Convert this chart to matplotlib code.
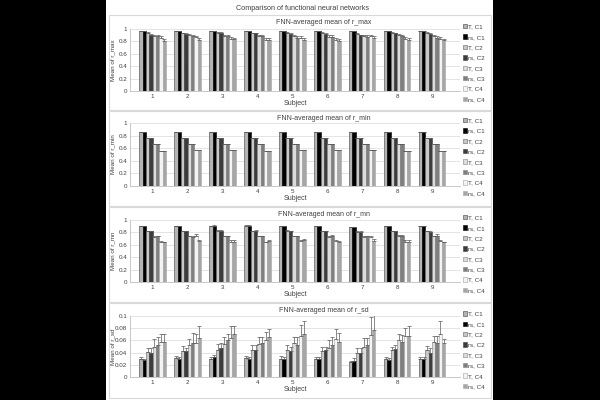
from matplotlib import pyplot as plt
from matplotlib.patches import Rectangle
import numpy as np

plt.rcParams['font.family'] = ['Liberation Sans', 'DejaVu Sans']

subjects = ['1', '2', '3', '4', '5', '6', '7', '8', '9']
series = ['T, C1', 'rs, C1', 'T, C2', 'rs, C2', 'T, C3', 'rs, C3', 'T, C4', 'rs, C4']

# values[subject][series]
r_max = [
    [0.97, 0.96, 0.93, 0.91, 0.88, 0.88, 0.86, 0.81],
    [0.97, 0.97, 0.93, 0.92, 0.90, 0.88, 0.87, 0.82],
    [0.97, 0.97, 0.94, 0.94, 0.89, 0.89, 0.84, 0.84],
    [0.97, 0.97, 0.93, 0.93, 0.88, 0.88, 0.83, 0.83],
    [0.97, 0.97, 0.93, 0.92, 0.89, 0.86, 0.85, 0.83],
    [0.97, 0.97, 0.93, 0.92, 0.87, 0.87, 0.83, 0.81],
    [0.96, 0.96, 0.92, 0.90, 0.88, 0.87, 0.88, 0.85],
    [0.97, 0.97, 0.94, 0.93, 0.90, 0.88, 0.84, 0.83],
    [0.97, 0.97, 0.93, 0.92, 0.88, 0.86, 0.84, 0.82],
]
r_max_err = [
    [0.005, 0.005, 0.015, 0.01, 0.02, 0.03, 0.02, 0.03],
    [0.005, 0.005, 0.01, 0.01, 0.02, 0.03, 0.02, 0.03],
    [0.005, 0.005, 0.01, 0.01, 0.02, 0.02, 0.03, 0.02],
    [0.005, 0.005, 0.01, 0.01, 0.02, 0.03, 0.03, 0.02],
    [0.005, 0.005, 0.015, 0.01, 0.02, 0.02, 0.03, 0.03],
    [0.005, 0.005, 0.015, 0.02, 0.03, 0.03, 0.03, 0.03],
    [0.005, 0.005, 0.015, 0.01, 0.02, 0.03, 0.03, 0.03],
    [0.005, 0.005, 0.01, 0.01, 0.02, 0.02, 0.03, 0.03],
    [0.005, 0.005, 0.015, 0.01, 0.02, 0.02, 0.03, 0.02],
]
r_min = [
    [0.86, 0.86, 0.76, 0.76, 0.66, 0.66, 0.56, 0.55],
    [0.86, 0.86, 0.76, 0.76, 0.66, 0.66, 0.57, 0.57],
    [0.86, 0.86, 0.76, 0.76, 0.66, 0.66, 0.57, 0.57],
    [0.86, 0.86, 0.76, 0.76, 0.66, 0.66, 0.56, 0.56],
    [0.86, 0.86, 0.76, 0.76, 0.66, 0.66, 0.57, 0.57],
    [0.86, 0.86, 0.76, 0.76, 0.66, 0.66, 0.57, 0.57],
    [0.86, 0.86, 0.76, 0.76, 0.66, 0.66, 0.57, 0.57],
    [0.86, 0.86, 0.76, 0.76, 0.66, 0.66, 0.56, 0.56],
    [0.86, 0.86, 0.76, 0.76, 0.66, 0.66, 0.56, 0.56],
]
r_min_err = [[0.003] * 8 for _ in subjects]
r_mn = [
    [0.90, 0.90, 0.82, 0.82, 0.73, 0.74, 0.65, 0.64],
    [0.90, 0.90, 0.82, 0.82, 0.74, 0.73, 0.74, 0.66],
    [0.90, 0.91, 0.83, 0.83, 0.74, 0.74, 0.65, 0.65],
    [0.91, 0.91, 0.82, 0.83, 0.74, 0.74, 0.64, 0.66],
    [0.90, 0.90, 0.83, 0.82, 0.74, 0.74, 0.66, 0.67],
    [0.90, 0.90, 0.82, 0.82, 0.73, 0.74, 0.66, 0.65],
    [0.89, 0.89, 0.81, 0.81, 0.73, 0.74, 0.73, 0.66],
    [0.90, 0.90, 0.82, 0.82, 0.75, 0.75, 0.65, 0.65],
    [0.90, 0.90, 0.82, 0.81, 0.74, 0.75, 0.66, 0.64],
]
r_mn_err = [
    [0.005, 0.005, 0.01, 0.01, 0.01, 0.01, 0.01, 0.01],
    [0.005, 0.005, 0.01, 0.01, 0.01, 0.02, 0.03, 0.02],
    [0.005, 0.005, 0.01, 0.01, 0.01, 0.01, 0.02, 0.02],
    [0.005, 0.005, 0.01, 0.01, 0.01, 0.01, 0.01, 0.02],
    [0.005, 0.005, 0.01, 0.01, 0.01, 0.01, 0.02, 0.02],
    [0.005, 0.005, 0.01, 0.01, 0.01, 0.02, 0.02, 0.01],
    [0.005, 0.005, 0.01, 0.01, 0.01, 0.01, 0.02, 0.04],
    [0.005, 0.005, 0.01, 0.01, 0.01, 0.01, 0.02, 0.02],
    [0.005, 0.005, 0.01, 0.01, 0.01, 0.02, 0.02, 0.01],
]
r_sd = [
    [0.029, 0.028, 0.041, 0.040, 0.050, 0.053, 0.057, 0.058],
    [0.031, 0.030, 0.043, 0.042, 0.053, 0.055, 0.055, 0.064],
    [0.030, 0.032, 0.045, 0.048, 0.054, 0.060, 0.064, 0.071],
    [0.031, 0.029, 0.044, 0.044, 0.054, 0.055, 0.060, 0.065],
    [0.030, 0.029, 0.045, 0.042, 0.055, 0.053, 0.067, 0.071],
    [0.030, 0.029, 0.042, 0.044, 0.048, 0.053, 0.062, 0.058],
    [0.024, 0.027, 0.039, 0.039, 0.050, 0.053, 0.069, 0.077],
    [0.030, 0.028, 0.044, 0.046, 0.060, 0.058, 0.067, 0.067],
    [0.029, 0.029, 0.045, 0.040, 0.057, 0.055, 0.070, 0.056],
]
r_sd_err = [
    [0.003, 0.002, 0.007, 0.007, 0.012, 0.012, 0.014, 0.013],
    [0.003, 0.003, 0.008, 0.006, 0.010, 0.017, 0.016, 0.019],
    [0.003, 0.004, 0.009, 0.007, 0.011, 0.011, 0.020, 0.012],
    [0.004, 0.004, 0.008, 0.008, 0.012, 0.011, 0.013, 0.013],
    [0.004, 0.004, 0.008, 0.007, 0.011, 0.012, 0.018, 0.020],
    [0.003, 0.003, 0.008, 0.006, 0.012, 0.013, 0.016, 0.014],
    [0.003, 0.004, 0.008, 0.008, 0.014, 0.011, 0.029, 0.025],
    [0.003, 0.003, 0.005, 0.007, 0.011, 0.011, 0.014, 0.017],
    [0.003, 0.003, 0.006, 0.007, 0.011, 0.012, 0.021, 0.006],
]

fills = ['#b4b4b4', '#000000', '#c8c8c8', '#3c3c3c', '#dcdcdc', '#7f7f7f', '#f4f4f4', '#a6a6a6']
edges = ['#404040', '#000000', '#606060', '#3c3c3c', '#808080', '#7f7f7f', '#a0a0a0', '#a6a6a6']

panels = [
    ('r_max', r_max, r_max_err, 1.0, 0.2),
    ('r_min', r_min, r_min_err, 1.0, 0.2),
    ('r_mn', r_mn, r_mn_err, 1.0, 0.2),
    ('r_sd', r_sd, r_sd_err, 0.1, 0.02),
]

W, H = 600, 400
fig = plt.figure(figsize=(6, 4), dpi=100, facecolor='black')
fig.patches.append(Rectangle((106 / W, 0), (493 - 106) / W, 1, transform=fig.transFigure,
                             facecolor='white', edgecolor='none', zorder=-10))
fig.text(302 / W, 1 - 8 / H, 'Comparison of functional neural networks',
         ha='center', va='center', fontsize=5.2, color='#404040')

borders = [14, 110, 206, 302, 398]
ax_tops = [29, 123, 220, 316]
ax_bots = [91, 186, 282, 377]
x = np.arange(1, len(subjects) + 1)
width = 0.095

for i, (name, vals, errs, ymax, step) in enumerate(panels):
    top, bot = borders[i], borders[i + 1]
    fig.patches.append(Rectangle((109 / W, 1 - bot / H), (491 - 109) / W, (bot - top - 1) / H,
                                 transform=fig.transFigure, facecolor='none',
                                 edgecolor='#d9d9d9', linewidth=0.8))
    ax = fig.add_axes([130 / W, 1 - ax_bots[i] / H, 330 / W, (ax_bots[i] - ax_tops[i]) / H])
    vals = np.array(vals)
    errs = np.array(errs)
    for k, s in enumerate(series):
        ax.bar(x + (k - 3.5) * width, vals[:, k], width, color=fills[k], edgecolor=edges[k],
               linewidth=0.4, label=s, zorder=2)
        ax.errorbar(x + (k - 3.5) * width, vals[:, k], yerr=[np.zeros(len(x)), errs[:, k]],
                    fmt='none', ecolor='#595959', elinewidth=0.5, capsize=1.2,
                    capthick=0.5, zorder=3)
    ax.set_xlim(0.35, 9.8)
    ax.set_ylim(0, ymax)
    ticks = np.arange(0, ymax + step / 2, step)
    ax.set_yticks(ticks)
    ax.set_yticklabels(['0' if t == 0 else ('%g' % round(t, 2)) for t in ticks])
    ax.set_xticks(x)
    ax.set_xticklabels(subjects)
    ax.tick_params(labelsize=4.5, length=0, pad=2, colors='#404040')
    ax.grid(axis='y', color='#d9d9d9', linewidth=0.5, zorder=0)
    for sp in ['top', 'right']:
        ax.spines[sp].set_visible(False)
    ax.spines['left'].set_color('#bfbfbf')
    ax.spines['bottom'].set_color('#bfbfbf')
    ax.spines['left'].set_linewidth(0.6)
    ax.spines['bottom'].set_linewidth(0.6)
    ax.set_xlabel('Subject', fontsize=5, labelpad=1, color='#404040')
    fig.text(113 / W, 1 - (ax_tops[i] + ax_bots[i]) / 2 / H, 'Mean of ' + name,
             rotation=90, ha='center', va='center', fontsize=4.5, color='#404040')
    fig.text(324 / W, 1 - (top + 8) / H, 'FNN-averaged mean of ' + name,
             ha='center', va='center', fontsize=5, color='#404040')
    ax.legend(loc='upper left', bbox_to_anchor=(1.0, 1.12), frameon=False, fontsize=4.5,
              handlelength=0.7, handleheight=0.7, handletextpad=0.2, labelspacing=0.8,
              borderaxespad=0, labelcolor='#404040')

fig.savefig('out.png', dpi=100, facecolor='black')
